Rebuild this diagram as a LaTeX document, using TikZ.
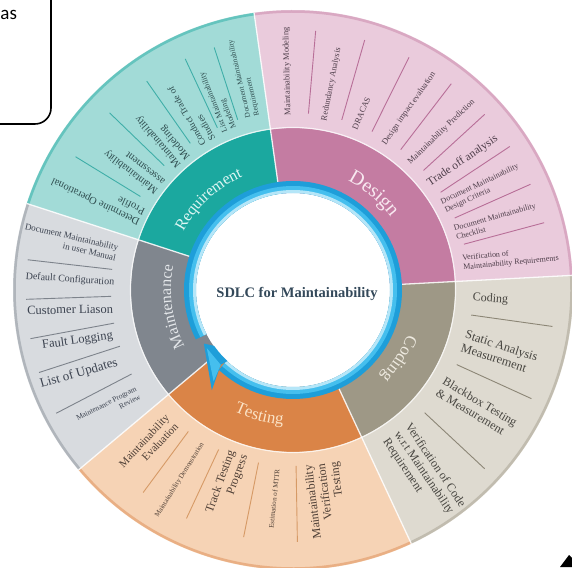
\documentclass[tikz,border=0pt]{standalone}
\usepackage{fontspec}
\setmainfont{Liberation Serif}
\newfontfamily\notefont{Carlito}
\usetikzlibrary{decorations.text}

% sector colours: light outer band, dark middle band, label text, separators
\definecolor{reqL}{HTML}{A2DBD7}
\definecolor{reqD}{HTML}{1BA89F}
\definecolor{reqT}{HTML}{2F4D4F}
\definecolor{reqS}{HTML}{3FAEA8}
\definecolor{reqM}{HTML}{DDF6F3}
\definecolor{desL}{HTML}{EACBDC}
\definecolor{desD}{HTML}{C47CA2}
\definecolor{desT}{HTML}{4E3E4A}
\definecolor{desS}{HTML}{B86F98}
\definecolor{desM}{HTML}{F8E8F0}
\definecolor{codL}{HTML}{DEDAD0}
\definecolor{codD}{HTML}{9E9886}
\definecolor{codT}{HTML}{474540}
\definecolor{codS}{HTML}{8C8676}
\definecolor{codM}{HTML}{EEEAE0}
\definecolor{tesL}{HTML}{F6D3B5}
\definecolor{tesD}{HTML}{DA8447}
\definecolor{tesT}{HTML}{4D3E35}
\definecolor{tesS}{HTML}{D69A66}
\definecolor{tesM}{HTML}{FBE3C6}
\definecolor{mntL}{HTML}{D8DBDF}
\definecolor{mntD}{HTML}{80868E}
\definecolor{mntT}{HTML}{3C4350}
\definecolor{mntS}{HTML}{7D838B}
\definecolor{mntM}{HTML}{E4E7EA}
\definecolor{ringD}{HTML}{1E9ED9}
\definecolor{ringM}{HTML}{45BFEE}
\definecolor{ringL}{HTML}{B5E6F8}
\definecolor{sdlcT}{HTML}{34495A}

\newcommand\lblsize[2]{\fontsize{#1}{#2}\selectfont}
\newcommand\reqfont{\fontsize{16}{16}\selectfont}
\newcommand\desfont{\fontsize{20}{20}\selectfont}
\newcommand\codfont{\fontsize{17}{17}\selectfont}
\newcommand\tesfont{\fontsize{17}{17}\selectfont}
\newcommand\mntfont{\fontsize{16}{16}\selectfont}

\begin{document}
\begin{tikzpicture}[x=1pt, y=1pt,
  lbl/.style={inner sep=0pt, outer sep=0pt},
  reqtxt/.style={lbl, text=reqT, anchor=west, align=left},
  destxt/.style={lbl, text=desT, anchor=west, align=left},
  codtxt/.style={lbl, text=codT, anchor=west, align=left},
  testxt/.style={lbl, text=tesT, anchor=east, align=right},
  mnttxt/.style={lbl, text=mntT, anchor=east, align=right},
  sepline/.style={line width=0.9pt},
  midlabel/.style={decorate, decoration={text along path, text align=center}},
]
\useasboundingbox (0,0) rectangle (572,567);
\fill[white] (0,0) rectangle (572,567);

% note box in the upper left corner
\draw[line width=1.6pt, rounded corners=16pt, fill=white] (-30,443) rectangle (51,600);
\node[lbl, font=\notefont\lblsize{19}{19}, anchor=base east] (notetext) at (17,547) {as};

% pointer tip in the lower right corner
\fill[black] (560,0) -- (569,12) -- (572,9) -- (572,0) -- cycle;

\begin{scope}[shift={(293,277)}]
  % outer and middle bands of the five phases
  \foreach \a/\b/\cl/\cd in {98/162/reqL/reqD, 3/98/desL/desD, -65/3/codL/codD,
                             220/295/tesL/tesD, 162/220/mntL/mntD}{
    \fill[\cl] (0,0) -- (\a:280) arc[start angle=\a, end angle=\b, radius=280] -- cycle;
    \draw[\cd!45!\cl, line width=2.5pt] (\a:278.5) arc[start angle=\a, end angle=\b, radius=278.5];
    \fill[\cd] (0,0) -- (\a:162) arc[start angle=\a, end angle=\b, radius=162] -- cycle;
  }
  \draw[white, opacity=0.75, line width=1.2pt] (0,0) circle[radius=162.5];
  \foreach \a in {98,3,-65,220,162}{
    \draw[white, opacity=0.85, line width=1.3pt] (\a:100) -- (\a:280);
  }

  % circular arrow round the centre
  \fill[white] (0,0) circle[radius=97];
  \draw[ringD, line width=12pt] (227:103) arc[start angle=227, end angle=567, radius=103];
  \draw[ringM, line width=6pt] (227:101) arc[start angle=227, end angle=567, radius=101];
  \draw[ringL, line width=3pt] (227:98.5) arc[start angle=227, end angle=567, radius=98.5];
  \fill[ringD] (211:104) -- (231:129) -- (226:104) -- (231:80) -- cycle;
  \fill[ringM] (214:104) -- (229:121) -- (226:104) -- cycle;
  \fill[white] (0,0) circle[radius=96.5];

  \node[lbl, font=\bfseries\lblsize{14.5}{15}, text=sdlcT] (title) at (4,-4) {SDLC for Maintainability};

  % phase names in the middle band
  \path[midlabel, decoration={text color=reqM, text={|\reqfont|Requirement}}]
    (162:124) arc[start angle=162, end angle=104, radius=124];
  \path[midlabel, decoration={text color=desM, text={|\desfont|Design}}]
    (82:122) arc[start angle=82, end angle=18, radius=122];
  \path[midlabel, decoration={text color=codM, text={|\codfont|Coding}}]
    (-3:123) arc[start angle=-3, end angle=-63, radius=123];
  \path[midlabel, decoration={text color=tesM, text={|\tesfont|Testing}}]
    (224:135) arc[start angle=224, end angle=286, radius=135];
  \path[midlabel, decoration={text color=mntM, text={|\mntfont|Maintenance}}]
    (218:122) arc[start angle=218, end angle=158, radius=122];

  % Requirement activities
  \foreach \a in {148.5,136,125,115,108}{
    \draw[sepline, reqS] (\a:179) -- (\a:255);
  }
  \node[reqtxt, rotate=154.5, font=\lblsize{10.5}{12}] (r1) at (154.5:168) {Determine Operational\\Profile};
  \node[reqtxt, rotate=142.5, font=\lblsize{10.5}{12}] (r2) at (142.5:168) {Maintainability\\assessment};
  \node[reqtxt, rotate=130.5, font=\lblsize{10.5}{12}] (r3) at (130.5:168) {Maintainability\\Modeling};
  \node[reqtxt, rotate=120, font=\lblsize{9.5}{11}] (r4) at (120:170) {Conduct Trade of\\Studies};
  \node[reqtxt, rotate=111.5, font=\lblsize{8}{9.5}] (r5) at (111.5:172) {List Maintainability\\Modeling};
  \node[reqtxt, rotate=103, font=\lblsize{7.5}{9}] (r6) at (103:178) {Document Maintainability\\Requirement};

  % Design activities
  \foreach \a in {85,74,63.5,52.5,42.5,33.5,24,15}{
    \draw[sepline, desS] (\a:177) -- (\a:260);
  }
  \node[destxt, rotate=91.5, font=\lblsize{8.5}{10}] (d1) at (91.5:175) {Maintainability Modeling};
  \node[destxt, rotate=79, font=\lblsize{8.5}{10}] (d2) at (79.5:172) {Redundancy Analysis};
  \node[destxt, rotate=67, font=\lblsize{8.5}{10}] (d3) at (69:172) {DRACAS};
  \node[destxt, rotate=55, font=\lblsize{8.5}{10}] (d4) at (58:172) {Design impact evaluation};
  \node[destxt, rotate=44, font=\lblsize{8.5}{10}] (d5) at (47.5:172) {Maintainability Prediction};
  \node[destxt, rotate=34, font=\lblsize{11.5}{13}] (d6) at (38:172) {Trade off analysis};
  \node[destxt, rotate=25, font=\lblsize{8}{9.5}] (d7) at (29:172) {Document Maintainability\\Design Criteria};
  \node[destxt, rotate=15.5, font=\lblsize{8}{9.5}] (d8) at (19.5:172) {Document Maintainability\\Checklist};
  \node[destxt, rotate=5.5, font=\lblsize{8}{9.5}] (d9) at (9:172) {Verification of\\Maintainability Requirements};

  % Coding activities
  \foreach \a in {-8,-24.5,-43}{
    \draw[sepline, codS] (\a:180) -- (\a:262);
  }
  \node[codtxt, rotate=-4, font=\lblsize{12}{14}] (c1) at (-2.5:180) {Coding};
  \node[codtxt, rotate=-18, font=\lblsize{12.5}{14}] (c2) at (-16.5:178) {Static Analysis\\Measurement};
  \node[codtxt, rotate=-31, font=\lblsize{12}{13.5}] (c3) at (-33:176) {Blackbox Testing\\\& Measurement};
  \node[codtxt, rotate=-56, font=\lblsize{12}{13.5}] (c4) at (-54:176) {Verification of Code\\w.r.t Maintainability\\Requirement};

  % Testing activities
  \foreach \a in {233.5,245,258.7,271}{
    \draw[sepline, tesS] (\a:176) -- (\a:252);
  }
  \node[testxt, rotate=47, font=\lblsize{11}{12.5}] (t1) at (227:178) {Maintainability\\Evaluation};
  \node[testxt, rotate=58, font=\lblsize{7}{8}] (t2) at (239.5:178) {Maintainability Demonstration};
  \node[testxt, rotate=70, font=\lblsize{12}{13.5}] (t3) at (251.5:172) {Track Testing\\Progress};
  \node[testxt, rotate=84, font=\lblsize{7}{8}] (t4) at (265:180) {Estimation of MTTR};
  \node[testxt, rotate=97, font=\lblsize{12}{13}] (t5) at (279.5:176) {Maintainability\\Verification\\Testing};

  % Maintenance activities
  \foreach \a in {173.5,182,190.5,198,207.5}{
    \draw[sepline, mntS] (\a:182) -- (\a:267);
  }
  \node[mnttxt, rotate=-13, font=\lblsize{9}{10.5}] (m1) at (168:180) {Document Maintainability\\in user Manual};
  \node[mnttxt, rotate=-4, font=\lblsize{10}{11}] (m2) at (177.7:179) {Default Configuration};
  \node[mnttxt, rotate=1, font=\lblsize{12.5}{13}] (m3) at (186:181) {Customer Liason};
  \node[mnttxt, rotate=8, font=\lblsize{12.5}{13}] (m4) at (194.3:186) {Fault Logging};
  \node[mnttxt, rotate=16, font=\lblsize{13}{13}] (m5) at (202.5:190) {List of Updates};
  \node[mnttxt, rotate=27, font=\lblsize{7.5}{9}] (m6) at (213.5:186) {Maintenance Program\\Review};
\end{scope}
\end{tikzpicture}
\end{document}
